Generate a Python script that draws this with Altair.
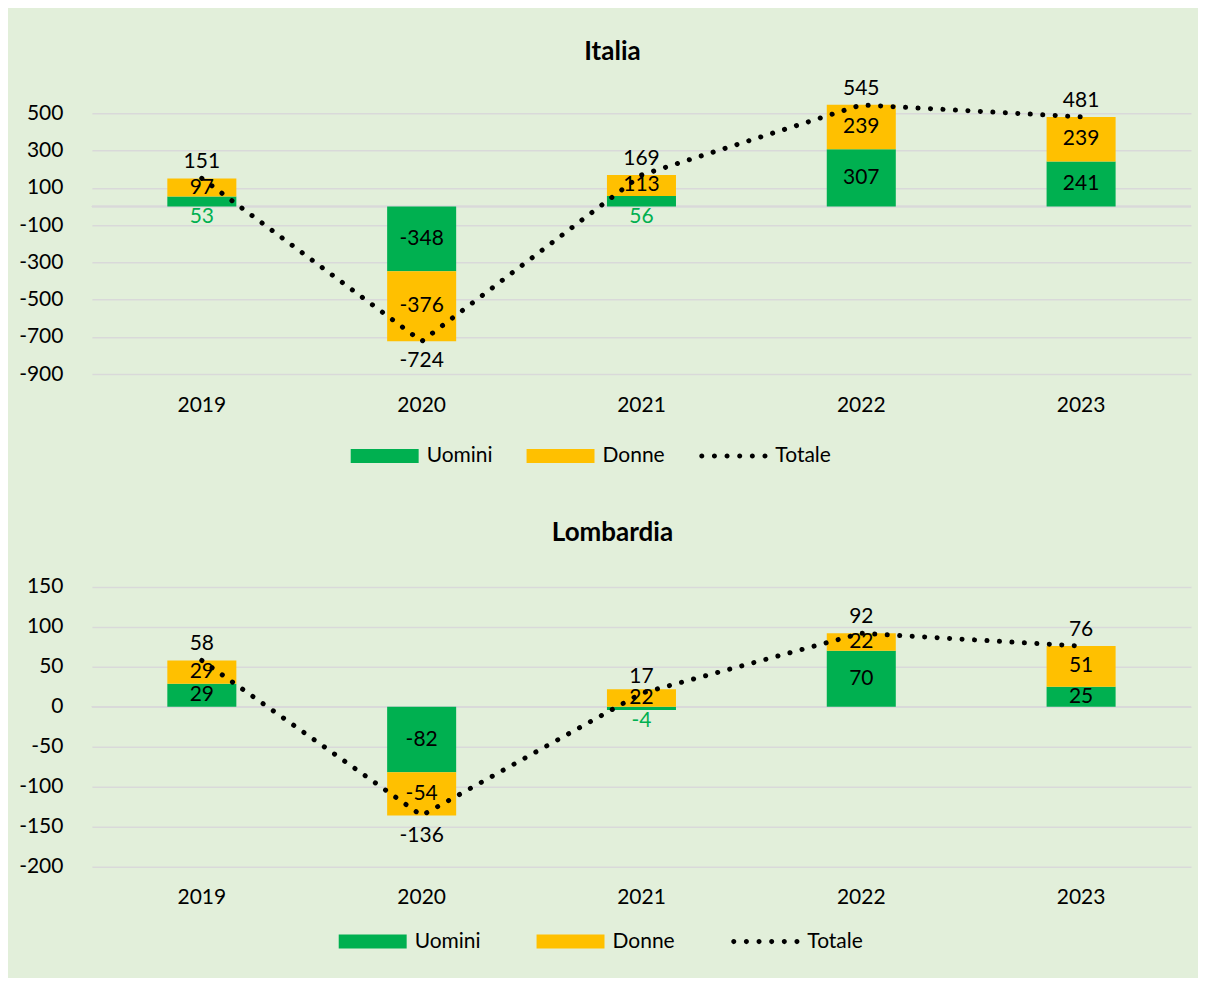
import altair as alt
import pandas as pd

years = ["2019", "2020", "2021", "2022", "2023"]
series = ["Uomini", "Donne", "Totale"]

ita_uomini = [53, -348, 56, 307, 241]
ita_donne = [97, -376, 113, 239, 239]
ita_totale = [151, -724, 169, 545, 481]
ita_ticks = [-900, -700, -500, -300, -100, 100, 300, 500]

lom_uomini = [29, -82, -4, 70, 25]
lom_donne = [29, -54, 22, 22, 51]
lom_totale = [58, -136, 17, 92, 76]
lom_ticks = [-200, -150, -100, -50, 0, 50, 100, 150]

GREEN = "#00B050"
GOLD = "#FFC000"
GRID = "#D9D9D9"
BG = "#E2EFDA"
FONT = "Lato"
FS = 21

# legend symbol shapes (unit coordinates, scaled by the legend symbol size)
RECT = "M-1,-0.206L1,-0.206L1,0.206L-1,0.206Z"
r = 0.074
dots = []
for i in range(6):
    cx = -0.93 + i * 0.372
    dots.append(f"M{cx - r:.3f},0A{r},{r} 0 1,0 {cx + r:.3f},0A{r},{r} 0 1,0 {cx - r:.3f},0Z")
DOTS = "".join(dots)

cscale = alt.Scale(domain=series, range=[GREEN, GOLD, "#000000"])
sscale = alt.Scale(domain=series, range=[RECT, RECT, DOTS])


def segments(uomini, donne, px):
    rows = []
    for yr, u, d in zip(years, uomini, donne):
        pos, neg = 0, 0
        for name, v in (("Uomini", u), ("Donne", d)):
            if v >= 0:
                lo, hi = pos, pos + v
                pos = hi
            else:
                lo, hi = neg + v, neg
                neg = lo
            rows.append(dict(year=yr, series=name, value=v, label=str(v), lo=lo, hi=hi,
                             mid=(lo + hi) / 2, outside=bool(abs(v) * px < 15)))
    return pd.DataFrame(rows)


def panel(title, uomini, donne, totale, ticks, dmin, dmax, height,
          lx, ly, colpad, toff):
    px = height / (dmax - dmin)
    seg = segments(uomini, donne, px)
    tot = pd.DataFrame({"year": years, "total": totale, "label": [str(t) for t in totale]})
    leg = pd.DataFrame({"series": series, "v": [None, None, None]})

    x = alt.X("year:N", title=None, sort=years,
              scale=alt.Scale(paddingInner=0.686, paddingOuter=0.343),
              axis=alt.Axis(labelAngle=0, domain=False, ticks=False, labelPadding=20,
                            labelFontSize=FS, labelFont=FONT, labelColor="#000"))
    yscale = alt.Scale(domain=[dmin, dmax], nice=False, zero=False)
    yaxis = alt.Axis(values=ticks, tickCount=len(ticks) + 2, title=None, domain=False,
                     ticks=False, tickSize=0, labelOverlap=False,
                     labelPadding=29, grid=True, gridColor=GRID, gridWidth=1.5,
                     labelFontSize=FS, labelFont=FONT, labelColor="#000",
                     labelExpr="'' + datum.value")
    legend_props = dict(orient="none", legendX=lx, legendY=ly, direction="horizontal",
                        title=None, symbolSize=4624, symbolStrokeWidth=0, symbolOpacity=1,
                        labelFontSize=FS, labelFont=FONT, labelColor="#000",
                        labelOffset=8, columnPadding=colpad)

    zero = alt.Chart(tot).mark_rule(color=GRID, strokeWidth=1.5).encode(
        y=alt.datum(0, scale=yscale, axis=yaxis))
    bars = alt.Chart(seg).mark_bar(opacity=1).encode(
        x=x,
        y=alt.Y("lo:Q", scale=yscale, axis=yaxis),
        y2="hi:Q",
        color=alt.Color("series:N", scale=cscale, sort=series, legend=alt.Legend(**legend_props)),
    )
    inner = alt.Chart(seg).transform_filter("!datum.outside").mark_text(
        font=FONT, fontSize=FS, color="#000", baseline="middle"
    ).encode(x=x, y=alt.Y("mid:Q", scale=yscale, axis=yaxis), text="label:N")
    outer = alt.Chart(seg).transform_filter("datum.outside").mark_text(
        font=FONT, fontSize=FS, color=GREEN, baseline="top", dy=0
    ).encode(x=x, y=alt.Y("lo:Q", scale=yscale, axis=yaxis), text="label:N")
    line = alt.Chart(tot).mark_line(
        color="#000", strokeWidth=5, strokeDash=[0.1, 12.4], strokeCap="round"
    ).encode(x=x, y=alt.Y("total:Q", scale=yscale, axis=yaxis))
    tpos = alt.Chart(tot).transform_filter("datum.total >= 0").mark_text(
        font=FONT, fontSize=FS, color="#000", baseline="alphabetic", dy=-10
    ).encode(x=x, y=alt.Y("total:Q", scale=yscale, axis=yaxis), text="label:N")
    tneg = alt.Chart(tot).transform_filter("datum.total < 0").mark_text(
        font=FONT, fontSize=FS, color="#000", baseline="top", dy=9
    ).encode(x=x, y=alt.Y("total:Q", scale=yscale, axis=yaxis), text="label:N")
    legl = alt.Chart(leg).mark_point(filled=True, opacity=1).encode(
        y=alt.Y("v:Q", scale=yscale, axis=yaxis),
        color=alt.Color("series:N", scale=cscale, sort=series, legend=alt.Legend(**legend_props)),
        shape=alt.Shape("series:N", scale=sscale, sort=series, legend=alt.Legend(**legend_props)),
    )
    return alt.layer(zero, bars, inner, outer, line, tpos, tneg, legl).properties(
        width=1100, height=height,
        title=alt.Title(title, fontSize=26, fontWeight="bold", font=FONT, color="#000",
                        offset=toff, dx=-29, anchor="middle"),
    )


ita = panel("Italia", ita_uomini, ita_donne, ita_totale, ita_ticks, -900, 500, 261,
            259, 309, 33, 13)
lom = panel("Lombardia", lom_uomini, lom_donne, lom_totale, lom_ticks, -200, 150, 280,
            247, 321, 55, 30)

chart = alt.vconcat(ita, lom, spacing=54).resolve_scale(
    color="independent", shape="independent"
).resolve_legend(color="independent", shape="independent").properties(
    background=BG, padding={"left": 10, "top": 30, "right": 6, "bottom": 26}
).configure_view(stroke=None)

chart.save("out.html", embed_options={"renderer": "svg", "actions": False})
